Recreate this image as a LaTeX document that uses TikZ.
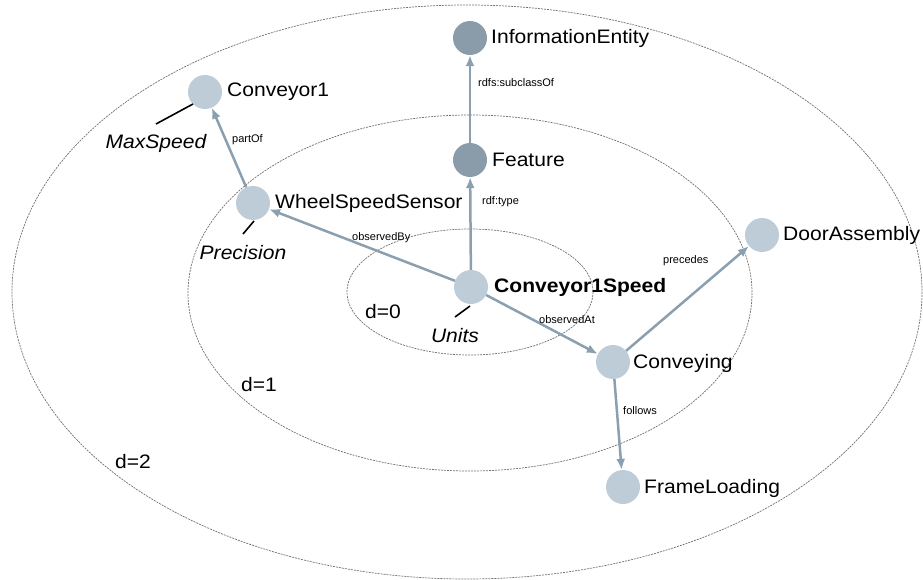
\documentclass[tikz,border=0pt]{standalone}
\usepackage{fontspec}
\setmainfont{Liberation Sans}
\newfontfamily\widefont[FakeStretch=1.08]{Liberation Sans}
\usetikzlibrary{arrows.meta}
\definecolor{lightnode}{HTML}{BECCD8}
\definecolor{darknode}{HTML}{8A9BAA}
\definecolor{edgecol}{HTML}{8A9FAF}
\definecolor{ringcol}{HTML}{707070}
\tikzset{
  ring/.style={draw=ringcol, line width=0.7pt, dash pattern=on 2pt off 1pt},
  lnode/.style={circle, fill=lightnode, minimum size=34pt, inner sep=0pt},
  dnode/.style={circle, fill=darknode, minimum size=34pt, inner sep=0pt},
  nlbl/.style={font=\widefont\fontsize{19.5}{22}\selectfont, inner sep=1pt},
  elbl/.style={font=\fontsize{11}{13}\selectfont, anchor=west, inner sep=0pt},
  plbl/.style={font=\widefont\fontsize{19.5}{22}\selectfont\itshape, inner sep=0pt},
  dlbl/.style={font=\widefont\fontsize{19.5}{22}\selectfont, inner sep=0pt},
  rel/.style={draw=edgecol, line width=2.5pt, -{Latex[length=11pt,width=9pt]}},
  tick/.style={draw=black, line width=1.6pt},
}
\begin{document}
\begin{tikzpicture}[x=1pt,y=-1pt]
\useasboundingbox (0,0) rectangle (923,580);
% rings
\draw[ring] (467,292) ellipse [x radius=455, y radius=287];
\draw[ring] (470,293) ellipse [x radius=282, y radius=178];
\draw[ring] (470,292) ellipse [x radius=123, y radius=63];
\node[dlbl] (d0) at (383,312) {d=0};
\node[dlbl] (d1) at (259,385) {d=1};
\node[dlbl] (d2) at (133,462) {d=2};
% nodes
\node[dnode] (ie) at (470,38) {};
\node[dnode] (feat) at (470,160) {};
\node[lnode] (c1) at (205,92) {};
\node[lnode] (wss) at (253,203) {};
\node[lnode] (door) at (762,235) {};
\node[lnode] (c1s) at (471,287) {};
\node[lnode] (conv) at (613,362) {};
\node[lnode] (frame) at (623,487) {};
% node labels
\node[nlbl, anchor=west] (ieL) at (490,38) {InformationEntity};
\node[nlbl, anchor=west] (featL) at (491,160) {Feature};
\node[nlbl, anchor=west] (c1L) at (226,92) {Conveyor1};
\node[nlbl, anchor=west] (wssL) at (274,203) {WheelSpeedSensor};
\node[nlbl, anchor=west] (doorL) at (782,235) {DoorAssembly};
\node[nlbl, anchor=west, font=\widefont\fontsize{19.5}{22}\selectfont\bfseries] (c1sL) at (493,287) {Conveyor1Speed};
\node[nlbl, anchor=west] (convL) at (632,363) {Conveying};
\node[nlbl, anchor=west] (frameL) at (643,488) {FrameLoading};
% edges
\draw[rel] (feat) -- (ie);
\draw[rel] (c1s) -- (feat);
\draw[rel] (c1s) -- (wss);
\draw[rel] (wss) -- (c1);
\draw[rel] (c1s) -- (conv);
\draw[rel] (conv) -- (door);
\draw[rel] (conv) -- (frame);
% edge labels
\node[elbl] (l1) at (478,83) {rdfs:subclassOf};
\node[elbl] (l2) at (232,140) {partOf};
\node[elbl] (l3) at (482,202) {rdf:type};
\node[elbl] (l4) at (352,238) {observedBy};
\node[elbl] (l5) at (663,261) {precedes};
\node[elbl] (l6) at (539,320) {observedAt};
\node[elbl] (l7) at (623,411) {follows};
% property labels with ticks
\coordinate (t1a) at (156,124); \coordinate (t1b) at (193,104);
\draw[tick] (t1a) -- (t1b);
\node[plbl] (ms) at (156,143) {MaxSpeed};
\coordinate (t2a) at (243,234); \coordinate (t2b) at (254,221);
\draw[tick] (t2a) -- (t2b);
\node[plbl] (prec) at (243,253) {Precision};
\coordinate (t3a) at (455,317); \coordinate (t3b) at (470,306);
\draw[tick] (t3a) -- (t3b);
\node[plbl] (units) at (455,336) {Units};
\end{tikzpicture}
\end{document}
